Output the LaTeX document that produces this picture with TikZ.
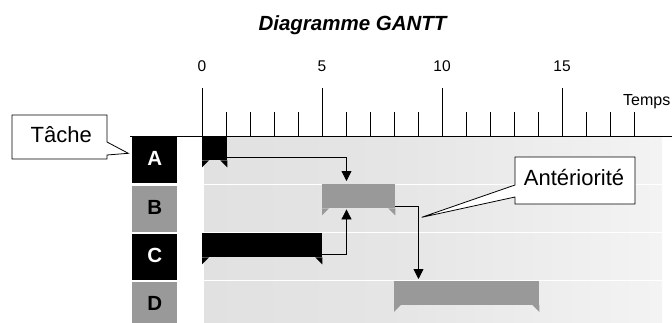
\documentclass[tikz,border=0pt]{standalone}
\usepackage{fontspec}
\setmainfont{Liberation Sans}
\usetikzlibrary{arrows.meta}
\definecolor{barGray}{RGB}{153,153,153}
\definecolor{bandL}{RGB}{220,220,220}
\definecolor{bandM}{RGB}{229,229,229}
\pgfdeclarehorizontalshading{bandshade}{100bp}{color(0bp)=(bandL); color(45bp)=(bandM); color(100bp)=(white)}
\tikzset{
  lbl/.style={inner sep=0pt, minimum width=45pt, minimum height=46pt, anchor=north west},
  blackbox/.style={lbl, fill=black},
  graybox/.style={lbl, fill=barGray},
  letter/.style={font=\fontsize{20.5}{20.5}\selectfont\bfseries, anchor=base, inner sep=0pt},
  band/.style={shading=bandshade},
  barbox/.style={inner sep=0pt, minimum height=24pt, anchor=north west},
  arr/.style={line width=0.8pt, -{Triangle[length=10pt,width=10pt]}},
  tick/.style={line width=0.8pt},
  num/.style={font=\fontsize{15.5}{15.5}\selectfont, anchor=base, inner sep=0pt},
  callout/.style={draw=black, line width=0.8pt, fill=white},
  ctext/.style={font=\fontsize{22}{22}\selectfont, anchor=base, inner sep=0pt}
}
\begin{document}
\begin{tikzpicture}[x=1pt,y=-1pt]
\useasboundingbox (0,0) rectangle (672,322);
% title
\node[font=\fontsize{20.5}{20.5}\selectfont\bfseries\itshape, anchor=base, inner sep=0pt] (title) at (352.5,30.7) {Diagramme GANTT};
% row bands
\foreach \t in {137,185.3,233.6,281.9}{
  \shade[band] (204,\t) rectangle (662,\t+46);
}
% row labels
\node[blackbox] (rA) at (132,137) {};
\node[graybox] (rB) at (132,185.3) {};
\node[blackbox] (rC) at (132,233.6) {};
\node[graybox] (rD) at (132,281.9) {};
\node[letter, text=white] (tA) at ([yshift=-5.5pt]rA.center) {A};
\node[letter, text=black] (tB) at ([yshift=-5.5pt]rB.center) {B};
\node[letter, text=white] (tC) at ([yshift=-5.5pt]rC.center) {C};
\node[letter, text=black] (tD) at ([yshift=-5.5pt]rD.center) {D};
% axis
\coordinate (axL) at (130,136);
\coordinate (axR) at (672,136);
\draw[tick] (axL) -- (axR);
\foreach \k in {0,...,18}{
  \pgfmathsetmacro{\xx}{202+24*\k}
  \pgfmathtruncatemacro{\m}{mod(\k,5)}
  \ifnum\m=0
    \draw[tick] (\xx,136) -- (\xx,88);
  \else
    \draw[tick] (\xx,136) -- (\xx,112);
  \fi
}
\node[num] (n0) at (202,71.7) {0};
\node[num] (n5) at (322,71.7) {5};
\node[num] (n10) at (442,71.7) {10};
\node[num] (n15) at (562,71.7) {15};
\node[font=\fontsize{16}{16}\selectfont, anchor=base east, inner sep=0pt] (temps) at (670.5,105) {Temps};
% bars
\node[barbox, fill=black, minimum width=25pt] (barA) at (202,136) {};
\node[barbox, fill=barGray, minimum width=73pt] (barB) at (322,184) {};
\node[barbox, fill=black, minimum width=120pt] (barC) at (202,233) {};
\node[barbox, fill=barGray, minimum width=145pt] (barD) at (394,280.5) {};
\foreach \b/\c in {barA/black,barB/barGray,barC/black,barD/barGray}{
  \fill[\c] (\b.south west) -- ++(0,7) -- ++(7,-7) -- cycle;
  \fill[\c] (\b.south east) -- ++(0,7) -- ++(-7,-7) -- cycle;
}
% dependency arrows
\draw[arr] ([yshift=3pt]barA.south east) -| ([xshift=24.5pt,yshift=3pt]barB.north west);
\draw[arr] ([yshift=3pt]barC.south east) -| ([xshift=24.5pt,yshift=-1pt]barB.south west);
\draw[arr] ([yshift=2pt]barB.south east) -| ([xshift=24.5pt,yshift=1.5pt]barD.north west);
% callout Tache
\draw[callout] (12,115) -- (107,115) -- (107,142) -- (128.3,153.3) -- (107,155) -- (107,159) -- (12,159) -- cycle;
\node[ctext] (tache) at (61.2,142.3) {Tâche};
% callout Anteriorite
\draw[callout] (515,157) -- (635,157) -- (635,204) -- (515,204) -- (515,197) -- (421.7,217.3) -- (515,185) -- cycle;
\node[ctext] (ante) at (574,185) {Antériorité};
\end{tikzpicture}
\end{document}
